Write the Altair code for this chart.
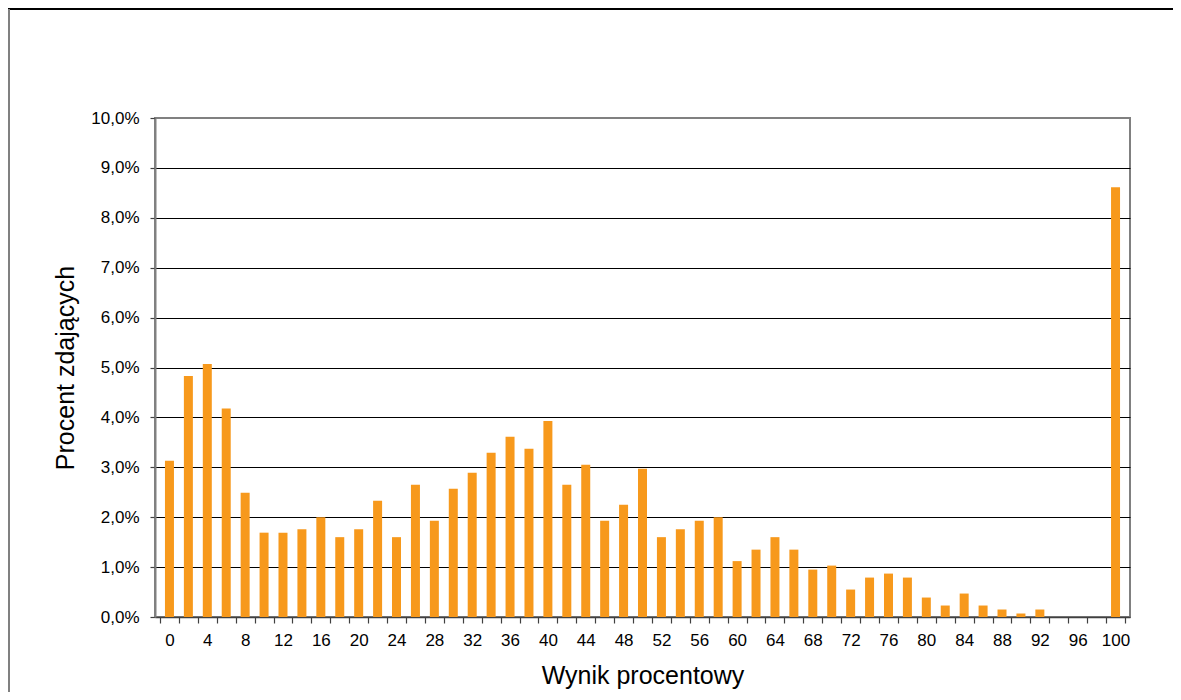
import altair as alt
import pandas as pd

# Data
scores = list(range(0, 101, 2))
percent = [3.13, 4.83, 5.07, 4.18, 2.49, 1.69, 1.69, 1.76, 2.00, 1.60,
           1.76, 2.33, 1.60, 2.65, 1.93, 2.57, 2.89, 3.29, 3.61, 3.37,
           3.93, 2.65, 3.05, 1.93, 2.25, 2.97, 1.60, 1.76, 1.93, 2.00,
           1.12, 1.35, 1.60, 1.35, 0.95, 1.03, 0.55, 0.79, 0.87, 0.79,
           0.39, 0.23, 0.47, 0.23, 0.15, 0.07, 0.15, 0.0, 0.0, 0.0,
           8.61]
y_ticks = list(range(0, 11))
x_label_values = list(range(0, 101, 4))

df = pd.DataFrame({"score": scores, "pct": percent})

FONT = "Liberation Sans"
W, H = 975, 499

x_axis = alt.Axis(
    values=list(range(-1, 102)),
    labelExpr="datum.value >= 0 && datum.value % 4 == 0 ? datum.label : ''",
    labelOverlap=False,
    labelFlush=False,
    labelBound=False,
    labelFont=FONT,
    labelFontSize=17,
    labelColor="#000000",
    labelPadding=9,
    tickSize=6,
    tickColor="#404040",
    tickWidth=1.2,
    tickOpacity={"condition": {"test": "datum.value % 2 == 0", "value": 0}, "value": 1},
    domainColor="#404040",
    domainWidth=1.5,
    grid=False,
    title="Wynik procentowy",
    titleFont=FONT,
    titleFontSize=25,
    titleFontWeight="normal",
    titleColor="#000000",
    titleBaseline="alphabetic",
    titleY=66,
    titleX=W / 2,
    titleAlign="center",
)

y_axis = alt.Axis(
    values=y_ticks,
    labelExpr="replace(format(datum.value, '.1f'), '.', ',') + '%'",
    labelFont=FONT,
    labelFontSize=17,
    labelColor="#000000",
    labelPadding=11,
    tickSize=5,
    tickColor="#404040",
    tickWidth=1.2,
    domainColor="#808080",
    domainWidth=2,
    grid=True,
    gridColor="#000000",
    gridWidth=1,
    gridOpacity={"condition": {"test": "datum.value == 0 || datum.value == 10", "value": 0}, "value": 1},
    title="Procent zdających",
    titleFont=FONT,
    titleFontSize=25,
    titleFontWeight="normal",
    titleColor="#000000",
    titleAngle=270,
    titleBaseline="alphabetic",
    titleAlign="center",
    titleX=-82,
    titleY=H / 2,
)

bars = alt.Chart(df).mark_bar(size=9, color="#F7991C").encode(
    x=alt.X("score:Q", scale=alt.Scale(domain=[-1, 101], nice=False, zero=False), axis=x_axis),
    y=alt.Y("pct:Q", scale=alt.Scale(domain=[0, 10], nice=False), axis=y_axis),
)

# Outer chart-area frame (top and left edges, as in the reference)
frame_top = alt.Chart(df).mark_rule(color="#000000", strokeWidth=1.5).encode(
    x=alt.value(-147), x2=alt.value(W + 43), y=alt.value(-109)
)
frame_left = alt.Chart(df).mark_rule(color="#808080", strokeWidth=2).encode(
    x=alt.value(-146), y=alt.value(-109), y2=alt.value(H + 80)
)

chart = alt.layer(bars, frame_top, frame_left).properties(
    width=W,
    height=H,
    autosize=alt.AutoSizeParams(type="none"),
    padding={"left": 147, "top": 110, "right": 43, "bottom": 75},
    background="#FFFFFF",
).configure_view(
    stroke="#808080",
    strokeWidth=2,
)

chart.save("out.html", embed_options={"renderer": "svg", "actions": False})
